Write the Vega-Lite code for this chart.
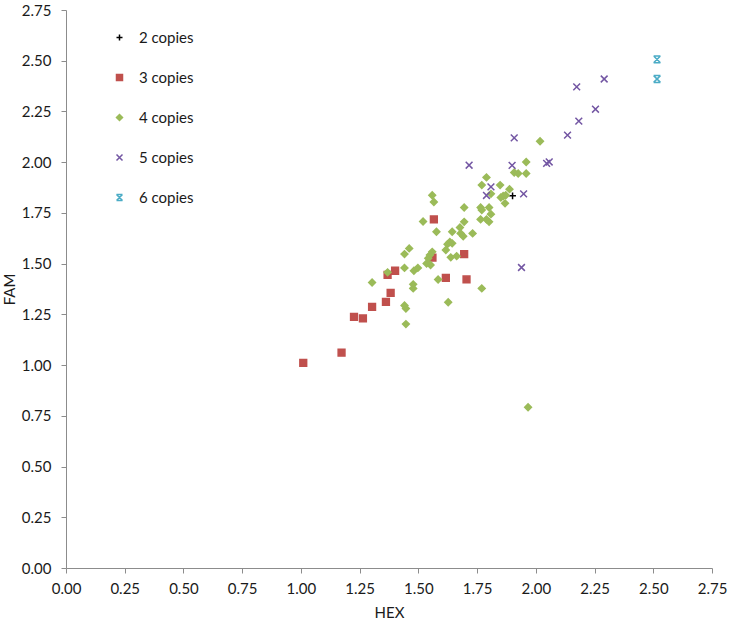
{
  "$schema": "https://vega.github.io/schema/vega-lite/v6.json",
  "width": 646,
  "height": 558,
  "autosize": "none",
  "padding": {"left": 66, "top": 10, "right": 21, "bottom": 60},
  "background": "white",
  "config": {
    "view": {"stroke": null},
    "font": "Lato",
    "axis": {"grid": false, "domainColor": "#8c8c8c", "tickColor": "#8c8c8c", "labelColor": "#1a1a1a", "titleColor": "#1a1a1a", "labelFontSize": 15, "titleFontSize": 15, "titleFontWeight": "normal", "labelFont": "Lato", "titleFont": "Lato", "tickSize": 5, "labelFlush": false, "labelOverlap": false}
  },
  "data": {"values": [
    {"copies": "2 copies", "HEX": 1.901, "FAM": 1.834},
    {"copies": "3 copies", "HEX": 1.010, "FAM": 1.011},
    {"copies": "3 copies", "HEX": 1.173, "FAM": 1.061},
    {"copies": "3 copies", "HEX": 1.226, "FAM": 1.238},
    {"copies": "3 copies", "HEX": 1.264, "FAM": 1.230},
    {"copies": "3 copies", "HEX": 1.303, "FAM": 1.287},
    {"copies": "3 copies", "HEX": 1.362, "FAM": 1.312},
    {"copies": "3 copies", "HEX": 1.382, "FAM": 1.356},
    {"copies": "3 copies", "HEX": 1.369, "FAM": 1.445},
    {"copies": "3 copies", "HEX": 1.401, "FAM": 1.465},
    {"copies": "3 copies", "HEX": 1.566, "FAM": 1.718},
    {"copies": "3 copies", "HEX": 1.695, "FAM": 1.547},
    {"copies": "3 copies", "HEX": 1.617, "FAM": 1.430},
    {"copies": "3 copies", "HEX": 1.705, "FAM": 1.422},
    {"copies": "3 copies", "HEX": 1.560, "FAM": 1.530},
    {"copies": "4 copies", "HEX": 1.461, "FAM": 1.575},
    {"copies": "4 copies", "HEX": 1.441, "FAM": 1.547},
    {"copies": "4 copies", "HEX": 1.369, "FAM": 1.457},
    {"copies": "4 copies", "HEX": 1.441, "FAM": 1.479},
    {"copies": "4 copies", "HEX": 1.481, "FAM": 1.465},
    {"copies": "4 copies", "HEX": 1.498, "FAM": 1.479},
    {"copies": "4 copies", "HEX": 1.303, "FAM": 1.407},
    {"copies": "4 copies", "HEX": 1.478, "FAM": 1.398},
    {"copies": "4 copies", "HEX": 1.478, "FAM": 1.378},
    {"copies": "4 copies", "HEX": 1.441, "FAM": 1.294},
    {"copies": "4 copies", "HEX": 1.447, "FAM": 1.279},
    {"copies": "4 copies", "HEX": 1.447, "FAM": 1.202},
    {"copies": "4 copies", "HEX": 1.959, "FAM": 2.001},
    {"copies": "4 copies", "HEX": 1.908, "FAM": 1.949},
    {"copies": "4 copies", "HEX": 1.925, "FAM": 1.944},
    {"copies": "4 copies", "HEX": 1.959, "FAM": 1.944},
    {"copies": "4 copies", "HEX": 1.790, "FAM": 1.925},
    {"copies": "4 copies", "HEX": 1.770, "FAM": 1.887},
    {"copies": "4 copies", "HEX": 1.848, "FAM": 1.887},
    {"copies": "4 copies", "HEX": 1.809, "FAM": 1.844},
    {"copies": "4 copies", "HEX": 1.888, "FAM": 1.867},
    {"copies": "4 copies", "HEX": 1.851, "FAM": 1.826},
    {"copies": "4 copies", "HEX": 1.861, "FAM": 1.833},
    {"copies": "4 copies", "HEX": 1.872, "FAM": 1.837},
    {"copies": "4 copies", "HEX": 1.869, "FAM": 1.797},
    {"copies": "4 copies", "HEX": 1.559, "FAM": 1.837},
    {"copies": "4 copies", "HEX": 1.566, "FAM": 1.804},
    {"copies": "4 copies", "HEX": 1.695, "FAM": 1.777},
    {"copies": "4 copies", "HEX": 1.765, "FAM": 1.777},
    {"copies": "4 copies", "HEX": 1.770, "FAM": 1.764},
    {"copies": "4 copies", "HEX": 1.801, "FAM": 1.777},
    {"copies": "4 copies", "HEX": 1.809, "FAM": 1.744},
    {"copies": "4 copies", "HEX": 1.765, "FAM": 1.718},
    {"copies": "4 copies", "HEX": 1.790, "FAM": 1.718},
    {"copies": "4 copies", "HEX": 1.801, "FAM": 1.706},
    {"copies": "4 copies", "HEX": 1.520, "FAM": 1.708},
    {"copies": "4 copies", "HEX": 1.695, "FAM": 1.706},
    {"copies": "4 copies", "HEX": 1.577, "FAM": 1.657},
    {"copies": "4 copies", "HEX": 1.644, "FAM": 1.657},
    {"copies": "4 copies", "HEX": 1.677, "FAM": 1.678},
    {"copies": "4 copies", "HEX": 1.680, "FAM": 1.649},
    {"copies": "4 copies", "HEX": 1.691, "FAM": 1.635},
    {"copies": "4 copies", "HEX": 1.731, "FAM": 1.649},
    {"copies": "4 copies", "HEX": 1.634, "FAM": 1.607},
    {"copies": "4 copies", "HEX": 1.644, "FAM": 1.600},
    {"copies": "4 copies", "HEX": 1.624, "FAM": 1.596},
    {"copies": "4 copies", "HEX": 1.617, "FAM": 1.567},
    {"copies": "4 copies", "HEX": 1.559, "FAM": 1.558},
    {"copies": "4 copies", "HEX": 1.549, "FAM": 1.542},
    {"copies": "4 copies", "HEX": 1.542, "FAM": 1.526},
    {"copies": "4 copies", "HEX": 1.535, "FAM": 1.501},
    {"copies": "4 copies", "HEX": 1.552, "FAM": 1.493},
    {"copies": "4 copies", "HEX": 1.638, "FAM": 1.531},
    {"copies": "4 copies", "HEX": 1.663, "FAM": 1.537},
    {"copies": "4 copies", "HEX": 1.584, "FAM": 1.422},
    {"copies": "4 copies", "HEX": 1.770, "FAM": 1.378},
    {"copies": "4 copies", "HEX": 1.627, "FAM": 1.310},
    {"copies": "4 copies", "HEX": 1.967, "FAM": 0.792},
    {"copies": "4 copies", "HEX": 2.018, "FAM": 2.103},
    {"copies": "5 copies", "HEX": 1.716, "FAM": 1.985},
    {"copies": "5 copies", "HEX": 1.899, "FAM": 1.984},
    {"copies": "5 copies", "HEX": 1.908, "FAM": 2.120},
    {"copies": "5 copies", "HEX": 1.809, "FAM": 1.878},
    {"copies": "5 copies", "HEX": 1.790, "FAM": 1.836},
    {"copies": "5 copies", "HEX": 1.948, "FAM": 1.844},
    {"copies": "5 copies", "HEX": 2.046, "FAM": 1.994},
    {"copies": "5 copies", "HEX": 2.057, "FAM": 2.001},
    {"copies": "5 copies", "HEX": 2.135, "FAM": 2.133},
    {"copies": "5 copies", "HEX": 2.183, "FAM": 2.202},
    {"copies": "5 copies", "HEX": 2.254, "FAM": 2.261},
    {"copies": "5 copies", "HEX": 2.174, "FAM": 2.371},
    {"copies": "5 copies", "HEX": 2.291, "FAM": 2.410},
    {"copies": "5 copies", "HEX": 1.939, "FAM": 1.481},
    {"copies": "6 copies", "HEX": 2.516, "FAM": 2.507},
    {"copies": "6 copies", "HEX": 2.516, "FAM": 2.410}
  ]},
  "mark": {"type": "point", "filled": false, "strokeWidth": 1.5, "size": 46, "opacity": 1},
  "encoding": {
    "x": {"field": "HEX", "type": "quantitative", "title": "HEX",
      "scale": {"domain": [0, 2.75], "nice": false, "zero": false},
      "axis": {"values": [0, 0.25, 0.5, 0.75, 1, 1.25, 1.5, 1.75, 2, 2.25, 2.5, 2.75], "format": ".2f", "labelPadding": 8, "titlePadding": 9}},
    "y": {"field": "FAM", "type": "quantitative", "title": "FAM",
      "scale": {"domain": [0, 2.75], "nice": false, "zero": false},
      "axis": {"values": [0, 0.25, 0.5, 0.75, 1, 1.25, 1.5, 1.75, 2, 2.25, 2.5, 2.75], "format": ".2f", "labelPadding": 10, "titlePadding": 4}},
    "shape": {"field": "copies", "type": "nominal",
      "scale": {"domain": ["2 copies", "3 copies", "4 copies", "5 copies", "6 copies"],
        "range": ["M-1,0H1M0,-1V1", "square", "diamond", "M-1,-1L1,1M-1,1L1,-1", "M-1,-1H1M-1,1H1M-1,-1L1,1M1,-1L-1,1"]},
      "legend": {"title": null}},
    "fill": {"field": "copies", "type": "nominal",
      "scale": {"domain": ["2 copies", "3 copies", "4 copies", "5 copies", "6 copies"],
        "range": ["transparent", "#C0504D", "#9BBB59", "transparent", "transparent"]},
      "legend": {"title": null}},
    "stroke": {"field": "copies", "type": "nominal",
      "scale": {"domain": ["2 copies", "3 copies", "4 copies", "5 copies", "6 copies"],
        "range": ["#000000", "#C0504D", "#9BBB59", "#7356A3", "#4BACC6"]},
      "legend": {"title": null, "orient": "none", "legendX": 46, "legendY": 20, "labelFontSize": 15, "labelFont": "Lato", "labelColor": "#1a1a1a", "symbolSize": 36, "symbolStrokeWidth": 1.5, "labelOffset": 12, "rowPadding": 24, "padding": 0}}
  }
}
